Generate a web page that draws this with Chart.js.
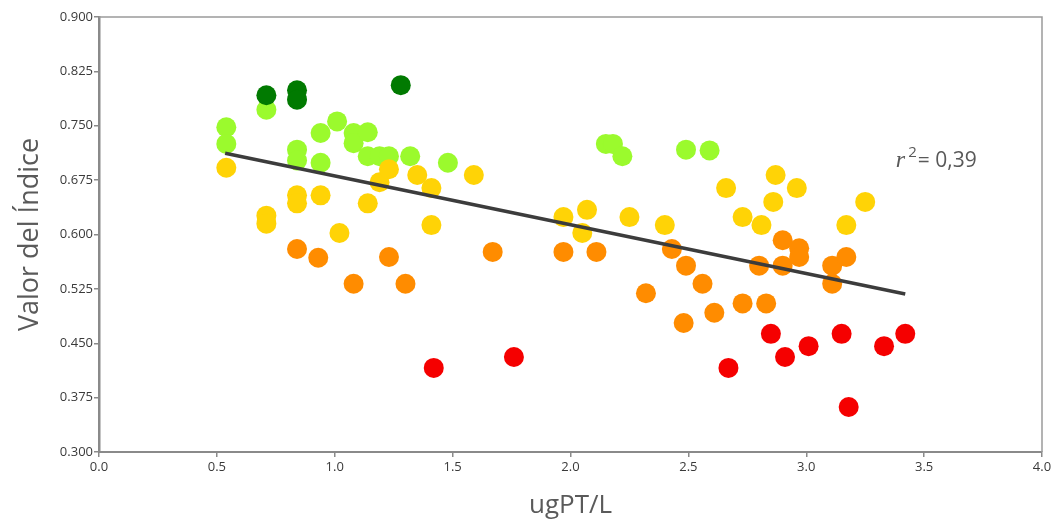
<!DOCTYPE html>
<html>
<head>
<meta charset="utf-8">
<script src="https://cdn.jsdelivr.net/npm/chart.js@4"></script>
<style>
  html, body { margin: 0; padding: 0; background: #fff; }
  #wrap { width: 1054px; height: 522px; }
</style>
</head>
<body>
<div id="wrap"><canvas id="indice-chart" width="1054" height="522"></canvas></div>
<script>
// valores por grupo de color (ugPT/L, valor del índice)
const verdeOscuroX = [0.71, 0.84, 0.84, 1.28]
const verdeOscuroY = [0.792, 0.799, 0.786, 0.806]

const verdeX = [0.54, 0.54, 0.71, 0.84, 0.84, 0.94, 0.94, 1.01, 1.08, 1.08, 1.14, 1.14, 1.19, 1.23, 1.32, 1.48, 2.15, 2.18, 2.22, 2.49, 2.59]
const verdeY = [0.748, 0.725, 0.772, 0.717, 0.702, 0.740, 0.699, 0.756, 0.740, 0.726, 0.741, 0.708, 0.708, 0.708, 0.708, 0.699, 0.725, 0.725, 0.708, 0.717, 0.716]

const amarilloX = [0.54, 0.71, 0.71, 0.84, 0.84, 0.94, 1.02, 1.14, 1.19, 1.23, 1.35, 1.41, 1.41, 1.59, 1.97, 2.05, 2.07, 2.25, 2.40, 2.66, 2.73, 2.81, 2.86, 2.87, 2.96, 3.17, 3.25]
const amarilloY = [0.692, 0.626, 0.615, 0.654, 0.643, 0.654, 0.602, 0.643, 0.672, 0.690, 0.682, 0.664, 0.613, 0.682, 0.624, 0.602, 0.634, 0.624, 0.613, 0.664, 0.624, 0.613, 0.645, 0.682, 0.664, 0.613, 0.645]

const naranjaX = [0.84, 0.93, 1.08, 1.23, 1.30, 1.67, 1.97, 2.11, 2.32, 2.43, 2.49, 2.48, 2.56, 2.61, 2.73, 2.80, 2.83, 2.90, 2.90, 2.97, 2.97, 3.11, 3.11, 3.17]
const naranjaY = [0.580, 0.568, 0.532, 0.569, 0.532, 0.576, 0.576, 0.576, 0.519, 0.580, 0.557, 0.478, 0.532, 0.492, 0.505, 0.557, 0.505, 0.592, 0.557, 0.581, 0.569, 0.557, 0.532, 0.569]

const rojoX = [1.42, 1.76, 2.67, 2.85, 2.91, 3.01, 3.15, 3.18, 3.33, 3.42]
const rojoY = [0.416, 0.431, 0.416, 0.463, 0.431, 0.446, 0.463, 0.362, 0.446, 0.463]

// recta de regresión
const tendenciaX = [0.535, 3.42]
const tendenciaY = [0.712, 0.518]

const r2Texto = ['r', '2', '= 0,39']
const r2Pos = { x: 3.38, y: 0.693 }

const yTicks = [0.300, 0.375, 0.450, 0.525, 0.600, 0.675, 0.750, 0.825, 0.900]
const xTicks = [0.0, 0.5, 1.0, 1.5, 2.0, 2.5, 3.0, 3.5, 4.0]

function puntos(xs, ys) {
  return xs.map((x, i) => ({ x: x, y: ys[i] }))
}

function grupo(xs, ys, color, order) {
  return {
    type: 'scatter',
    data: puntos(xs, ys),
    backgroundColor: color,
    borderColor: color,
    borderWidth: 0,
    pointRadius: 10,
    order: order
  }
}

const datosIndice = {
  datasets: [
    {
      type: 'line',
      data: puntos(tendenciaX, tendenciaY),
      borderColor: '#3c3c3c',
      borderWidth: 3.5,
      pointRadius: 0,
      fill: false,
      order: 0
    },
    grupo(rojoX, rojoY, '#f50000', 1),
    grupo(naranjaX, naranjaY, '#ff8c00', 2),
    grupo(amarilloX, amarilloY, '#ffd306', 3),
    grupo(verdeOscuroX, verdeOscuroY, '#017a01', 4),
    grupo(verdeX, verdeY, '#9bfa2d', 5)
  ]
}

// marco superior y derecho, y la etiqueta r²
const marcoPlugin = {
  id: 'marco',
  afterDraw(chart) {
    const ctx = chart.ctx
    const a = chart.chartArea
    ctx.save()
    ctx.strokeStyle = '#9a9a9a'
    ctx.lineWidth = 1.5
    ctx.beginPath()
    ctx.moveTo(a.left, a.top)
    ctx.lineTo(a.right, a.top)
    ctx.lineTo(a.right, a.bottom)
    ctx.stroke()

    const px = chart.scales.x.getPixelForValue(r2Pos.x)
    const py = chart.scales.y.getPixelForValue(r2Pos.y)
    ctx.fillStyle = '#595959'
    ctx.textBaseline = 'alphabetic'
    ctx.font = 'italic 24px "Liberation Serif"'
    ctx.fillText(r2Texto[0], px, py)
    let w = ctx.measureText(r2Texto[0]).width
    ctx.font = '15px "Open Sans"'
    ctx.fillText(r2Texto[1], px + w + 3, py - 10)
    w += ctx.measureText(r2Texto[1]).width + 3
    ctx.font = '21px "Open Sans"'
    ctx.fillText(r2Texto[2], px + w + 1, py)
    ctx.restore()
  }
}

const configIndice = {
  data: datosIndice,
  plugins: [marcoPlugin],
  options: {
    responsive: false,
    animation: false,
    layout: {
      padding: { top: 17, right: 12, left: 0, bottom: 0 }
    },
    plugins: {
      legend: { display: false },
      tooltip: { enabled: false }
    },
    scales: {
      x: {
        type: 'linear',
        min: 0,
        max: 4,
        afterBuildTicks: (scale) => { scale.ticks = xTicks.map(v => ({ value: v })) },
        afterFit: (scale) => { scale.height = 70 },
        border: { display: true, color: '#8a8a8a', width: 2 },
        grid: {
          display: true,
          drawOnChartArea: false,
          drawTicks: true,
          tickLength: 5,
          color: '#8a8a8a',
          lineWidth: 1.5
        },
        ticks: {
          color: '#3a3a3a',
          padding: 2,
          maxRotation: 0,
          font: { family: 'Open Sans', size: 13 },
          callback: (v) => Number(v).toFixed(1)
        },
        title: {
          display: true,
          text: 'ugPT/L',
          color: '#5a5a5a',
          font: { family: 'Open Sans', size: 26 },
          padding: { top: 0, bottom: 1 }
        }
      },
      y: {
        type: 'linear',
        min: 0.3,
        max: 0.9,
        afterBuildTicks: (scale) => { scale.ticks = yTicks.map(v => ({ value: v })) },
        afterFit: (scale) => { scale.width = 99 },
        border: { display: true, color: '#8a8a8a', width: 2.5 },
        grid: {
          display: true,
          drawOnChartArea: false,
          drawTicks: true,
          tickLength: 5,
          color: '#8a8a8a',
          lineWidth: 1.5
        },
        ticks: {
          color: '#3a3a3a',
          padding: 1,
          font: { family: 'Open Sans', size: 13 },
          callback: (v) => Number(v).toFixed(3)
        },
        title: {
          display: true,
          text: 'Valor del Índice',
          color: '#5a5a5a',
          font: { family: 'Open Sans', size: 27 },
          padding: { top: 14, bottom: 0 }
        }
      }
    }
  }
}

const chartIndiceElement = document.getElementById('indice-chart').getContext('2d')
const chartIndice = new Chart(chartIndiceElement, configIndice)
</script>
</body>
</html>
